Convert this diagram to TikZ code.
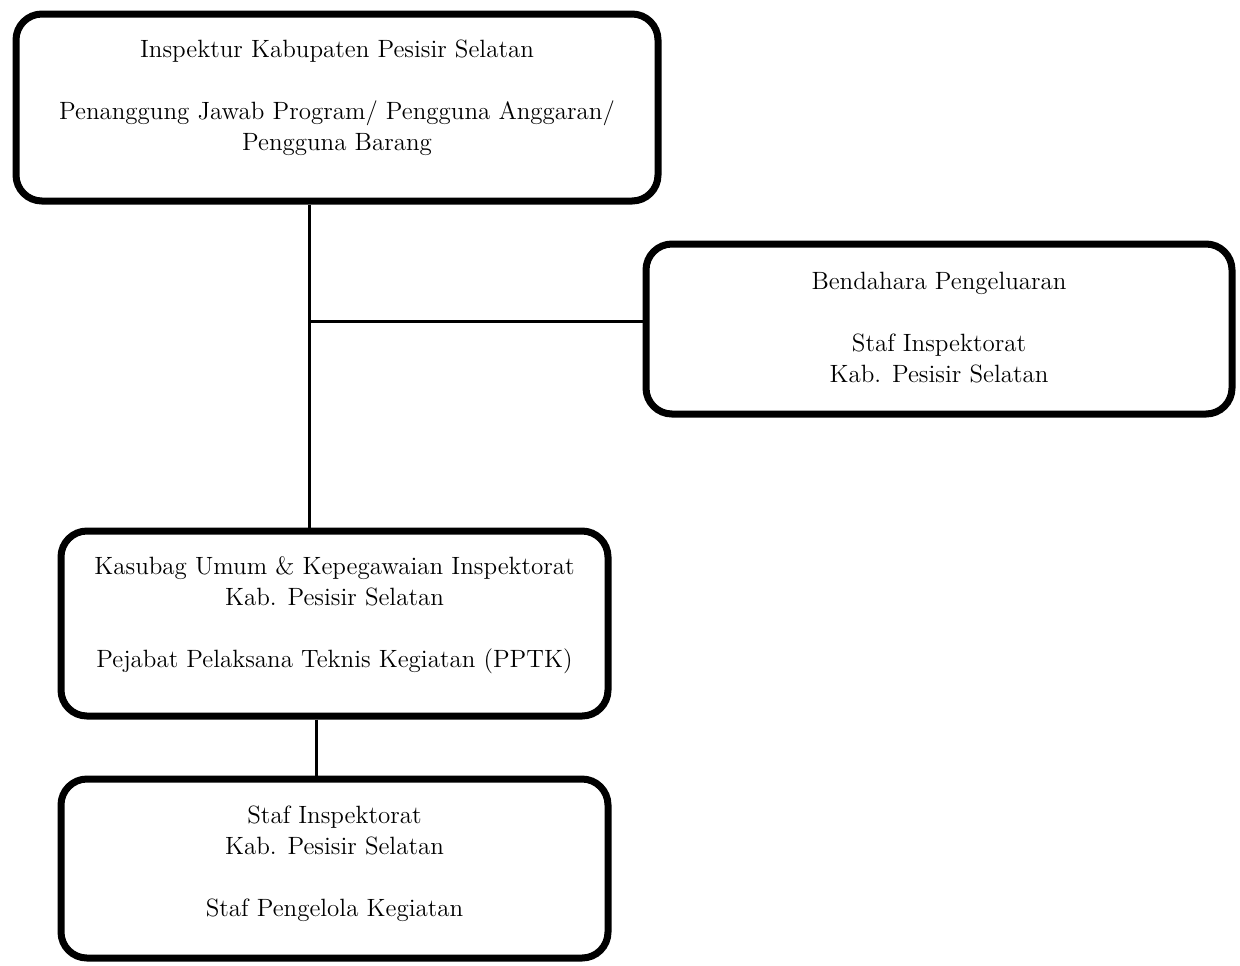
\documentclass[tikz,border=0pt]{standalone}
\usepackage{tikz}
\usetikzlibrary{positioning}

\newcommand{\lowstrut}[1]{\rule[-#1]{0pt}{0pt}}

\begin{document}
\begin{tikzpicture}[x=1pt,y=1pt,
    unit/.style={draw,line width=3.5pt,rounded corners=13pt,align=center,
                 font=\fontsize{12.5}{15.5}\selectfont,inner sep=0pt},
    link/.style={line width=1.5pt}]
  \useasboundingbox (0,0) rectangle (620,-482.5);

  \node[unit,minimum width=321pt,minimum height=93.5pt] (insp)  at (168.5,-53.75)
     {Inspektur Kabupaten Pesisir Selatan\\[15.5pt]
      Penanggung Jawab Program/ Pengguna Anggaran/\\ Pengguna Barang\lowstrut{12pt}};
  \node[unit,minimum width=293pt,minimum height=85pt]   (bend)  at (469.5,-164.5)
     {Bendahara Pengeluaran\\[15.5pt] Staf Inspektorat\\ Kab. Pesisir Selatan\lowstrut{2pt}};
  \node[unit,minimum width=273.5pt,minimum height=92.5pt] (pptk) at (167.25,-311.75)
     {Kasubag Umum \& Kepegawaian Inspektorat\\ Kab. Pesisir Selatan\\[15.5pt]
      Pejabat Pelaksana Teknis Kegiatan (PPTK)\lowstrut{11pt}};
  \node[unit,minimum width=273.5pt,minimum height=89.5pt] (staf) at (167.25,-434.25)
     {Staf Inspektorat\\ Kab. Pesisir Selatan\\[15.5pt] Staf Pengelola Kegiatan\lowstrut{7pt}};

  \coordinate (trunk) at (154.5,-160.5);
  \coordinate (stem)  at (158,0);

  \draw[link] (insp.south -| trunk) -- (pptk.north -| trunk);
  \draw[link] (trunk) -- (trunk -| bend.west);
  \draw[link] (pptk.south -| stem) -- (staf.north -| stem);
\end{tikzpicture}
\end{document}
